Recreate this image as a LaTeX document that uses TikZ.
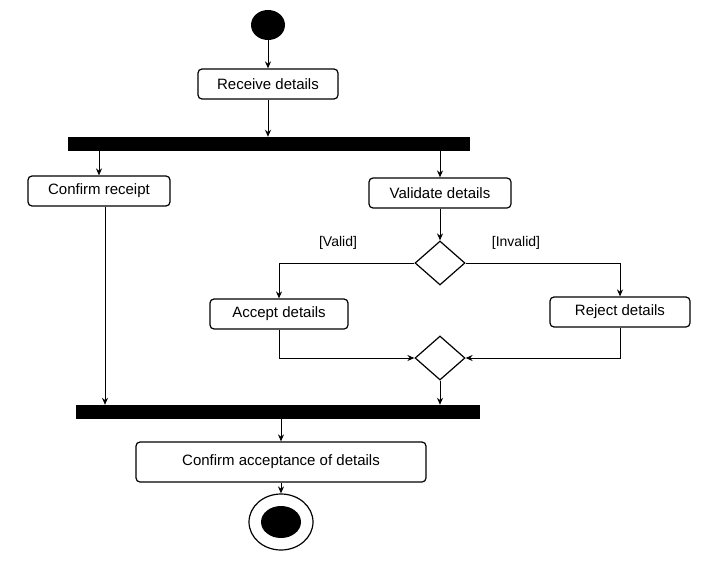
\documentclass[tikz,border=0pt]{standalone}
\usepackage{fontspec}
\setmainfont{Liberation Sans}
\usetikzlibrary{positioning,shapes.geometric,arrows.meta}
\tikzset{>={Stealth[length=7pt,width=6pt]}}
\tikzset{
  action/.style={draw,line width=1.2pt,rounded corners=4pt,minimum height=30pt,inner xsep=6pt,font=\fontsize{15}{17}\selectfont},
  bar/.style={fill=black,inner sep=0pt,minimum height=14pt},
  choice/.style={draw,line width=1.2pt,diamond,minimum width=50pt,minimum height=44pt,inner sep=0pt},
  guard/.style={font=\fontsize{14}{16}\selectfont},
  flow/.style={line width=1pt,->}
}

\begin{document}
\begin{tikzpicture}[x=1pt,y=-1pt]
  \useasboundingbox (0,0) rectangle (710,570);
  % start and end
  \node[fill=black,ellipse,minimum width=34pt,minimum height=30pt] (start) at (268,25) {};
  \node[draw,line width=1.2pt,ellipse,minimum width=64pt,minimum height=56pt] (stop) at (281,522) {};
  \node[fill=black,ellipse,minimum width=40pt,minimum height=32pt] at (stop) {};
  % actions
  \node[action,minimum width=140pt] (receive) at (268,84) {Receive details};
  \node[bar,minimum width=402pt] (fork) at (269,144) {};
  \node[action,minimum width=142pt] (confirm) at (99,191) {Confirm receipt};
  \node[action,minimum width=142pt] (validate) at (440,193) {Validate details};
  \node[choice] (check) at (440,263) {};
  \node[action,minimum width=138pt] (accept) at (279,314) {Accept details};
  \node[action,minimum width=140pt] (reject) at (620,312) {Reject details};
  \node[choice] (merge) at (440,358) {};
  \node[bar,minimum width=404pt] (join) at (278,412) {};
  \node[action,minimum width=290pt,minimum height=40pt] (final) at (281,462) {Confirm acceptance of details};
  \node[guard] (valid) at (338,243) {[Valid]};
  \node[guard] (invalid) at (516,243) {[Invalid]};
  % flows
  \draw[flow] (start) -- (receive);
  \draw[flow] (receive) -- (receive |- fork.north);
  \draw[flow] (confirm |- fork.south) -- (confirm);
  \draw[flow] (validate |- fork.south) -- (validate);
  \draw[flow] (validate) -- (check);
  \draw[flow] (check.west) -| (accept);
  \draw[flow] (check.east) -| (reject);
  \draw[flow] (accept.south) |- (merge.west);
  \draw[flow] (reject.south) |- (merge.east);
  \draw[flow] (merge) -- (merge |- join.north);
  \draw[flow] ([xshift=6pt]confirm.south) -- ([xshift=6pt]confirm.south |- join.north);
  \draw[flow] (final |- join.south) -- (final);
  \draw[flow] (final) -- (stop);
\end{tikzpicture}
\end{document}
